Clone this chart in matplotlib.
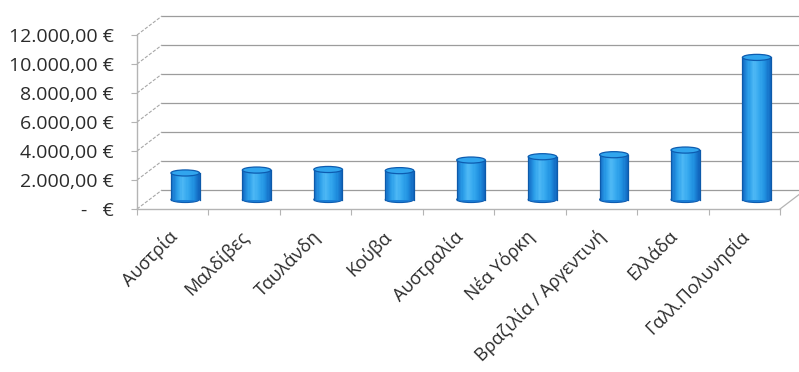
import numpy as np
import matplotlib
matplotlib.use("Agg")
import matplotlib.pyplot as plt
from matplotlib.patches import Ellipse, Rectangle
from matplotlib.transforms import ScaledTranslation

plt.rcParams["font.family"] = ["Open Sans", "DejaVu Sans"]

destinations = ["Αυστρία", "Μαλδίβες", "Ταυλάνδη", "Κούβα", "Αυστραλία",
                "Νέα Υόρκη", "Βραζιλία / Αργεντινή", "Ελλάδα", "Γαλλ.Πολυνησία"]
costs = [1830, 2030, 2070, 1990, 2720, 2950, 3090, 3410, 9800]
y_ticks = [0, 2000, 4000, 6000, 8000, 10000, 12000]

# depth of the 3d box, in data units (back wall sits up and to the right)
DEPTH_X = 0.35
DEPTH_Y = 1310
GRID = "#9c9c9c"


def euro(v):
    if v == 0:
        return "-   €"
    s = f"{v:,.2f}".replace(",", "X").replace(".", ",").replace("X", ".")
    return s + " €"


fig = plt.figure(figsize=(7.99, 3.72), dpi=100)
ax = fig.add_axes([137 / 799, 163 / 372, 643 / 799, 174 / 372])
ax.set_xlim(0, len(destinations))
ax.set_ylim(0, 12000)
for s in ["top", "right", "bottom", "left"]:
    ax.spines[s].set_visible(False)

n = len(destinations)

# back wall gridlines and left wall diagonals
for v in y_ticks:
    ax.plot([DEPTH_X, n + DEPTH_X], [v + DEPTH_Y, v + DEPTH_Y],
            color=GRID, lw=0.9, clip_on=False, zorder=1)
    ax.plot([0, DEPTH_X], [v, v + DEPTH_Y], color="#a8a8a8", lw=0.8,
            ls=(0, (3, 1.5)), clip_on=False, zorder=1)

# floor edges
ax.plot([0, n], [0, 0], color="#b4b4b4", lw=1.0, clip_on=False, zorder=1)
ax.plot([n, n + DEPTH_X], [0, DEPTH_Y], color="#b4b4b4", lw=0.9,
        clip_on=False, zorder=1)
ax.plot([0, 0], [0, 12000], color="#b4b4b4", lw=1.0, clip_on=False, zorder=1)

# cylinders, drawn half way into the box
cyl_w = 0.40
ell_h = 420
strips = 24
shade = plt.matplotlib.colors.LinearSegmentedColormap.from_list(
    "cyl", ["#1570c8", "#2a9de8", "#4db8f5", "#34a7ee", "#2090e0", "#1268c0"])
for i, v in enumerate(costs):
    cx = i + 0.5 + DEPTH_X / 2
    base = DEPTH_Y / 2
    ax.add_patch(Ellipse((cx, base), cyl_w, ell_h, facecolor="#1a7ed6",
                         edgecolor="#0d5cb0", lw=0.8, clip_on=False, zorder=3))
    sw = cyl_w / strips
    for k in range(strips):
        ax.add_patch(Rectangle((cx - cyl_w / 2 + k * sw, base), sw * 1.05, v,
                               facecolor=shade(k / (strips - 1)), lw=0,
                               clip_on=False, zorder=4))
    ax.plot([cx - cyl_w / 2] * 2, [base, base + v], color="#0d5aaa", lw=0.9,
            clip_on=False, zorder=5)
    ax.plot([cx + cyl_w / 2] * 2, [base, base + v], color="#0d5aaa", lw=0.9,
            clip_on=False, zorder=5)
    ax.add_patch(Ellipse((cx, base + v), cyl_w, ell_h, facecolor="#31a5ee",
                         edgecolor="#0d5cb0", lw=0.9, clip_on=False, zorder=6))

# axes ticks and labels
ax.set_yticks(y_ticks, labels=[euro(v) for v in y_ticks])
ax.tick_params(axis="y", length=4, color="#b4b4b4", pad=13,
               labelsize=14, labelcolor="#2b2b2b")
ax.set_xticks(range(n + 1), labels=[""] * (n + 1))
ax.tick_params(axis="x", which="major", length=4, color="#b4b4b4")
ax.set_xticks([i + 0.5 for i in range(n)], labels=destinations, minor=True)
ax.tick_params(axis="x", which="minor", length=0, labelsize=13,
               labelcolor="#2b2b2b")
shift = ScaledTranslation(2 / 100, -20 / 100, fig.dpi_scale_trans)
for lab in ax.get_xticklabels(minor=True):
    lab.set_rotation(45)
    lab.set_ha("right")
    lab.set_va("center")
    lab.set_rotation_mode("anchor")
    lab.set_transform(lab.get_transform() + shift)

fig.savefig("out.png", dpi=100, facecolor="white")
